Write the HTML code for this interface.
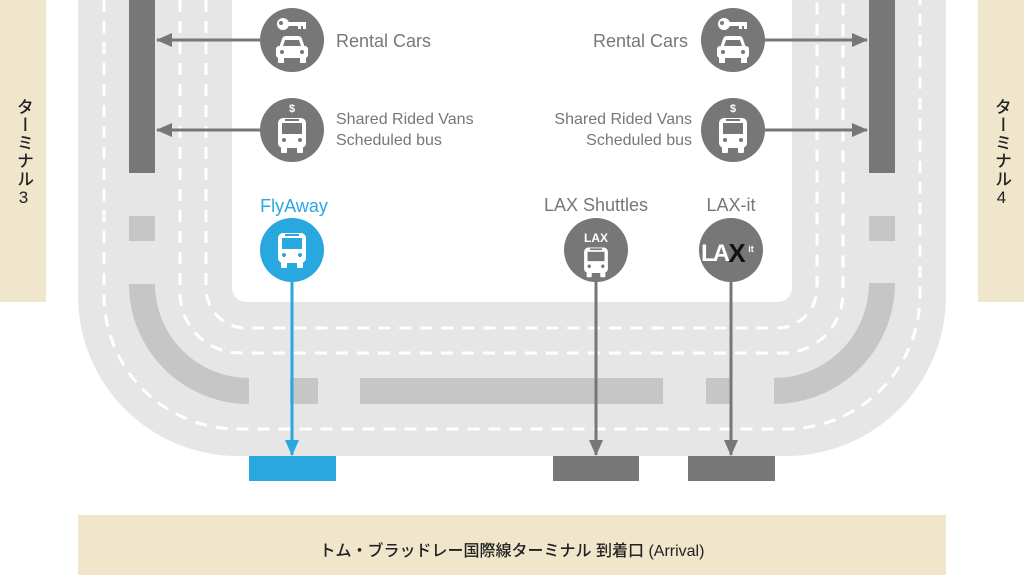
<!DOCTYPE html>
<html><head><meta charset="utf-8"><style>
html,body{margin:0;padding:0;background:#fff;}
body{position:relative;width:1024px;height:575px;overflow:hidden;}
svg{display:block;}
text{font-family:"Liberation Sans","Noto Sans CJK JP",sans-serif;}
.term{position:absolute;top:98px;width:46px;height:120px;writing-mode:vertical-rl;text-orientation:upright;font-family:"Liberation Sans","Noto Sans CJK JP",sans-serif;font-size:17px;font-weight:500;color:#222;display:flex;align-items:center;justify-content:flex-start;line-height:46px;letter-spacing:1px;}
</style></head><body>
<svg width="1024" height="575" viewBox="0 0 1024 575" xmlns="http://www.w3.org/2000/svg">
<defs>
<marker id="agb" markerWidth="16" markerHeight="16" refX="15" refY="8" orient="auto" markerUnits="userSpaceOnUse" viewBox="0 0 16 16"><path d="M0,1 L16,8 L0,15 Z" fill="#777"/></marker>
<marker id="abb" markerWidth="16" markerHeight="16" refX="15" refY="8" orient="auto" markerUnits="userSpaceOnUse" viewBox="0 0 16 16"><path d="M0,1 L16,8 L0,15 Z" fill="#29a8e0"/></marker>
<g id="bus"><rect x="-14" y="-17" width="28" height="30" rx="5" fill="#fff"/><rect x="-10" y="-12" width="20" height="11" fill="currentColor"/><rect x="-7" y="-16" width="14" height="2" fill="currentColor"/><circle cx="-8" cy="5" r="2" fill="currentColor"/><circle cx="8" cy="5" r="2" fill="currentColor"/><rect x="-11" y="12" width="6" height="6" rx="1" fill="#fff"/><rect x="5" y="12" width="6" height="6" rx="1" fill="#fff"/></g>
<g id="car"><path d="M-13,4 L-10,-5 Q-9,-8 -6,-8 L6,-8 Q9,-8 10,-5 L13,4 Z" fill="#fff"/><rect x="-16" y="2" width="32" height="12" rx="3" fill="#fff"/><path d="M-9,2 L-7,-4 L7,-4 L9,2 Z" fill="#777"/><circle cx="-10" cy="8" r="2" fill="#777"/><circle cx="10" cy="8" r="2" fill="#777"/><rect x="-14" y="13" width="6" height="6" fill="#fff"/><rect x="8" y="13" width="6" height="6" fill="#fff"/></g>
<g id="key"><circle cx="-9" cy="0" r="6" fill="#fff"/><circle cx="-11" cy="-1" r="2" fill="#777"/><rect x="-4" y="-2" width="18" height="4" fill="#fff"/><rect x="6" y="1" width="3" height="4" fill="#fff"/><rect x="11" y="1" width="3" height="4" fill="#fff"/></g>
</defs>

<rect x="0" y="0" width="46" height="302" fill="#f0e6cc"/>
<rect x="978" y="0" width="46" height="302" fill="#f0e6cc"/>
<rect x="78" y="515" width="868" height="60" fill="#f0e6cc"/>
<text x="512" y="556" font-size="16" font-weight="500" fill="#222" text-anchor="middle">トム・ブラッドレー国際線ターミナル 到着口 (Arrival)</text>

<path d="M78,0 V296 A160,160 0 0 0 238,456 H786 A160,160 0 0 0 946,296 V0 Z" fill="#e6e6e6"/>
<rect x="232" y="-20" width="560" height="322" rx="14" fill="#fff"/>
<g fill="none" stroke="#fff" stroke-width="3" stroke-dasharray="12 9">
<path d="M104,0 V295 A134,134 0 0 0 238,429 H786 A134,134 0 0 0 920,295 V0"/>
<path d="M180,0 V293 A60,60 0 0 0 240,353 H783 A60,60 0 0 0 843,293 V0"/>
<path d="M206,0 V288 A40,40 0 0 0 246,328 H777 A40,40 0 0 0 817,288 V0"/>
</g>
<g fill="#c6c6c6">
<rect x="129" y="216" width="26" height="25"/>
<rect x="869" y="216" width="26" height="25"/>
<rect x="290" y="378" width="28" height="26"/>
<rect x="360" y="378" width="303" height="26"/>
<rect x="706" y="378" width="24" height="26"/>
</g>
<g fill="none" stroke="#c6c6c6" stroke-width="26">
<path d="M142,284 A107,107 0 0 0 249,391"/>
<path d="M774,391 A108,108 0 0 0 882,283"/>
</g>
<rect x="129" y="0" width="26" height="173" fill="#777"/>
<rect x="869" y="0" width="26" height="173" fill="#777"/>

<g stroke="#777" stroke-width="3" fill="none">
<line x1="262" y1="40" x2="157" y2="40" marker-end="url(#agb)"/>
<line x1="262" y1="130" x2="157" y2="130" marker-end="url(#agb)"/>
<line x1="764" y1="40" x2="867" y2="40" marker-end="url(#agb)"/>
<line x1="764" y1="130" x2="867" y2="130" marker-end="url(#agb)"/>
<line x1="596" y1="280" x2="596" y2="455" marker-end="url(#agb)"/>
<line x1="731" y1="280" x2="731" y2="455" marker-end="url(#agb)"/>
</g>
<line x1="292" y1="280" x2="292" y2="455" stroke="#29a8e0" stroke-width="3" marker-end="url(#abb)"/>
<rect x="249" y="456" width="87" height="25" fill="#29a8e0"/>
<rect x="553" y="456" width="86" height="25" fill="#777"/>
<rect x="688" y="456" width="87" height="25" fill="#777"/>

<g>
<circle cx="292" cy="40" r="32" fill="#777"/>
<use href="#key" x="292" y="24"/><use href="#car" x="292" y="44"/>
<circle cx="733" cy="40" r="32" fill="#777"/>
<use href="#key" x="733" y="24"/><use href="#car" x="733" y="44"/>
<circle cx="292" cy="130" r="32" fill="#777"/>
<g color="#777"><use href="#bus" x="292" y="135"/></g>
<text x="292" y="112" font-size="11" font-weight="bold" fill="#fff" text-anchor="middle">$</text>
<circle cx="733" cy="130" r="32" fill="#777"/>
<g color="#777"><use href="#bus" x="733" y="135"/></g>
<text x="733" y="112" font-size="11" font-weight="bold" fill="#fff" text-anchor="middle">$</text>
<circle cx="292" cy="250" r="32" fill="#29a8e0"/>
<g color="#29a8e0"><use href="#bus" x="292" y="250"/></g>
<circle cx="596" cy="250" r="32" fill="#777"/>
<text x="596" y="242" font-size="12" font-weight="bold" fill="#fff" text-anchor="middle">LAX</text>
<g color="#777" transform="translate(596,262) scale(0.85)"><use href="#bus" x="0" y="0"/></g>
<circle cx="731" cy="250" r="32" fill="#777"/>
<text x="714" y="261" font-size="24" font-weight="bold" fill="#fff" text-anchor="middle" letter-spacing="-3">LA</text>
<text x="737" y="262" font-size="26" font-weight="bold" fill="#111" text-anchor="middle">X</text>
<text x="751" y="252" font-size="9" font-weight="bold" fill="#fff" text-anchor="middle">it</text>
</g>

<g font-size="18" fill="#777">
<text x="336" y="47">Rental Cars</text>
<text x="688" y="47" text-anchor="end">Rental Cars</text>
</g>
<g font-size="16" fill="#777">
<text x="336" y="124">Shared Rided Vans</text>
<text x="336" y="145">Scheduled bus</text>
<text x="692" y="124" text-anchor="end">Shared Rided Vans</text>
<text x="692" y="145" text-anchor="end">Scheduled bus</text>
</g>
<g font-size="18" text-anchor="middle">
<text x="294" y="212" fill="#29a8e0">FlyAway</text>
<text x="596" y="211" fill="#777">LAX Shuttles</text>
<text x="731" y="211" fill="#777">LAX-it</text>
</g>
</svg>
<div class="term" style="left:0">ターミナル3</div>
<div class="term" style="left:978px">ターミナル4</div>
</body></html>
